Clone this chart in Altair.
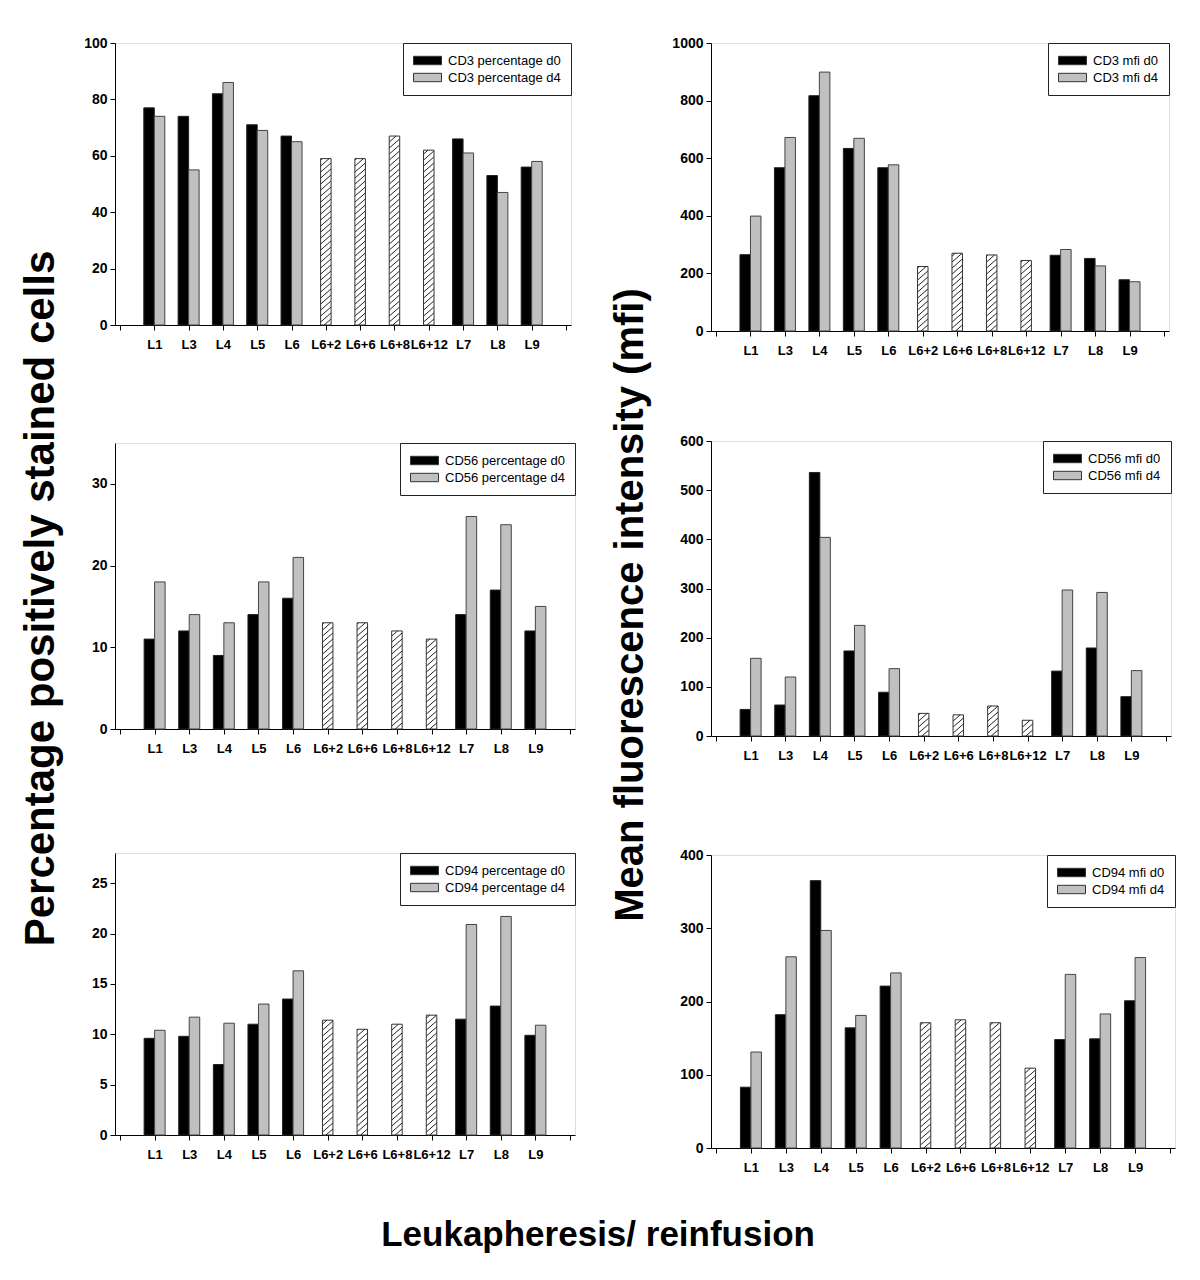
import altair as alt
import pandas as pd

# ---------------- data ----------------
cats = ["L1", "L3", "L4", "L5", "L6", "L6+2", "L6+6", "L6+8", "L6+12", "L7", "L8", "L9"]
paired_cats = ["L1", "L3", "L4", "L5", "L6", "L7", "L8", "L9"]
hatch_cats = ["L6+2", "L6+6", "L6+8", "L6+12"]

cd3_pct_d0 = [77, 74, 82, 71, 67, 66, 53, 56]
cd3_pct_d4 = [74, 55, 86, 69, 65, 61, 47, 58]
cd3_pct_h = [59, 59, 67, 62]

cd3_mfi_d0 = [265, 567, 817, 634, 567, 263, 252, 178]
cd3_mfi_d4 = [399, 672, 899, 669, 577, 283, 226, 171]
cd3_mfi_h = [224, 270, 264, 245]

cd56_pct_d0 = [11, 12, 9, 14, 16, 14, 17, 12]
cd56_pct_d4 = [18, 14, 13, 18, 21, 26, 25, 15]
cd56_pct_h = [13, 13, 12, 11]

cd56_mfi_d0 = [54, 63, 536, 173, 89, 132, 179, 80]
cd56_mfi_d4 = [158, 120, 404, 225, 137, 297, 292, 133]
cd56_mfi_h = [46, 43, 61, 32]

cd94_pct_d0 = [9.6, 9.8, 7.0, 11.0, 13.5, 11.5, 12.8, 9.9]
cd94_pct_d4 = [10.4, 11.7, 11.1, 13.0, 16.3, 20.9, 21.7, 10.9]
cd94_pct_h = [11.4, 10.5, 11.0, 11.9]

cd94_mfi_d0 = [83, 182, 365, 164, 221, 148, 149, 201]
cd94_mfi_d4 = [131, 261, 297, 181, 239, 237, 183, 260]
cd94_mfi_h = [171, 175, 171, 109]

FONT = "Liberation Sans"
BW = 10.5          # bar width in px
NSLOT = 13         # x domain 0..13


def panel(prefix, d0, d4, hv, ymax, ystep, W, H):
    lab0 = f"{prefix} d0"
    lab4 = f"{prefix} d4"
    rows = []
    for c, a, b in zip(paired_cats, d0, d4):
        i = cats.index(c) + 1
        rows.append({"idx": i, "value": a, "series": lab0})
        rows.append({"idx": i, "value": b, "series": lab4})
    df = pd.DataFrame(rows)
    dh = pd.DataFrame({"idx": [cats.index(c) + 1 for c in hatch_cats], "value": hv})

    # hatch segments (computed from bar values through pixel->data conversion)
    rise, gap = 9.0, 6.0
    segs = []
    for i, v in zip(dh["idx"], dh["value"]):
        top = v / ymax * H
        y0 = -rise
        while y0 < top:
            xs_, ys_ = 0.0, y0
            xe_, ye_ = BW, y0 + rise
            if ys_ < 0:
                xs_ = (0 - y0) / rise * BW
                ys_ = 0.0
            if ye_ > top:
                xe_ = (top - y0) / rise * BW
                ye_ = top
            if xe_ > xs_:
                segs.append({
                    "idx": i + (xs_ - BW / 2) * NSLOT / W,
                    "idx2": i + (xe_ - BW / 2) * NSLOT / W,
                    "value": ys_ * ymax / H,
                    "value2": ye_ * ymax / H,
                })
            y0 += gap
    ds = pd.DataFrame(segs)

    xlab = "[''," + ",".join(f"'{c}'" for c in cats) + ",''][datum.value]"
    xaxis = alt.Axis(values=list(range(NSLOT + 1)), labelExpr=xlab, title=None,
                     grid=False, tickSize=5, tickColor="black", domainColor="black",
                     labelFont=FONT, labelFontWeight="bold", labelFontSize=13,
                     labelColor="black", labelPadding=8, labelOverlap=False,
                     labelFlush=False, labelBound=False)
    yaxis = alt.Axis(values=list(range(0, int(ymax) + 1, ystep)), title=None, format="d",
                     grid=False, tickSize=5, tickColor="black", domainColor="black",
                     labelFont=FONT, labelFontWeight="bold", labelFontSize=14,
                     labelColor="black", labelPadding=3)
    xsc = alt.Scale(domain=[0, NSLOT], nice=False, zero=False)
    ysc = alt.Scale(domain=[0, ymax], nice=False)
    xs = alt.X("idx:Q", scale=xsc, axis=xaxis)
    ys = alt.Y("value:Q", scale=ysc, axis=yaxis)
    color = alt.Color("series:N", scale=alt.Scale(domain=[lab0, lab4], range=["#000000", "#c0c0c0"]),
                      legend=alt.Legend(title=None, orient="top-right", offset=0,
                                        strokeColor="#222", fillColor="white", padding=10,
                                        labelFont=FONT, labelFontSize=13, labelColor="black",
                                        symbolType="M-1,-0.6H3V0.6H-1Z", symbolSize=196,
                                        symbolStrokeColor="#333", symbolStrokeWidth=1,
                                        symbolOpacity=1, rowPadding=2, labelOffset=20,
                                        labelLimit=300, cornerRadius=0))
    base = alt.Chart(df)
    b0 = base.transform_filter(alt.datum.series == lab0).mark_bar(
        width=BW, xOffset=-BW / 2, stroke="#222", strokeWidth=1, opacity=1
    ).encode(x=xs, y=ys, color=color)
    b4 = base.transform_filter(alt.datum.series == lab4).mark_bar(
        width=BW, xOffset=BW / 2, stroke="#444", strokeWidth=1, opacity=1
    ).encode(x=xs, y=ys, color=color)
    bh = alt.Chart(dh).mark_bar(width=BW, fill="white", stroke="#333", strokeWidth=1,
                                opacity=1).encode(x=xs, y=ys)
    hl = alt.Chart(ds).mark_rule(color="#222", strokeWidth=1).encode(
        x=xs, x2="idx2:Q", y=ys, y2="value2:Q")
    return alt.layer(b0, b4, bh, hl).properties(width=W, height=H)


def indep(c):
    return c.resolve_scale(color="independent").resolve_legend(color="independent")


p1 = panel("CD3 percentage", cd3_pct_d0, cd3_pct_d4, cd3_pct_h, 100, 20, 456, 282)
p3 = panel("CD56 percentage", cd56_pct_d0, cd56_pct_d4, cd56_pct_h, 35, 10, 460, 286)
p5 = panel("CD94 percentage", cd94_pct_d0, cd94_pct_d4, cd94_pct_h, 28, 5, 460, 282)
p2 = panel("CD3 mfi", cd3_mfi_d0, cd3_mfi_d4, cd3_mfi_h, 1000, 200, 458, 288)
p4 = panel("CD56 mfi", cd56_mfi_d0, cd56_mfi_d4, cd56_mfi_h, 600, 100, 460, 295)
p6 = panel("CD94 mfi", cd94_mfi_d0, cd94_mfi_d4, cd94_mfi_h, 400, 100, 464, 293)

left = indep(alt.vconcat(indep(alt.vconcat(p1, p3, spacing=90)), p5, spacing=96)).properties(
    title=alt.TitleParams("Percentage positively stained cells", orient="left", anchor="middle",
                          font=FONT, fontSize=42, fontWeight="bold", color="black", offset=20))
right = indep(alt.vconcat(indep(alt.vconcat(p2, p4, spacing=75)), p6, spacing=84)).properties(
    title=alt.TitleParams("Mean fluorescence intensity (mfi)", orient="left", anchor="middle",
                          font=FONT, fontSize=40, fontWeight="bold", color="black", offset=20))

chart = indep(alt.hconcat(left, right, spacing=35)).properties(
    title=alt.TitleParams("Leukapheresis/ reinfusion", orient="bottom", anchor="middle",
                          font=FONT, fontSize=35, fontWeight="bold", color="black", offset=43),
    padding={"left": 12, "top": 27, "right": 5, "bottom": 5},
).configure_view(stroke="#333", strokeWidth=1).configure_axisX(
    labelOverlap=False).configure(background="white")

chart.save("out.html", embed_options={"renderer": "svg", "actions": False})
